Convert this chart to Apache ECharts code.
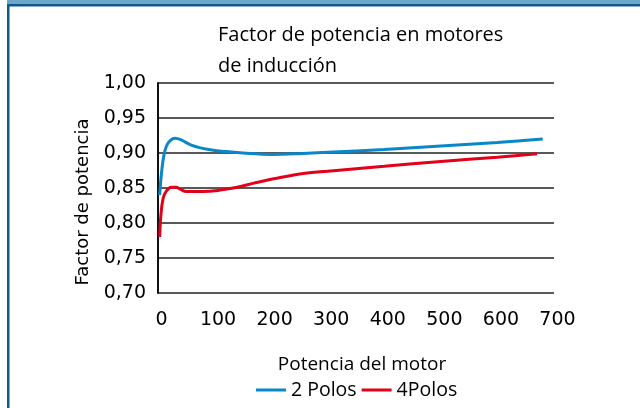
<!DOCTYPE html>
<html>
<head>
<meta charset="utf-8">
<script src="https://cdn.jsdelivr.net/npm/echarts@6/dist/echarts.min.js"></script>
<style>
  html, body { margin: 0; padding: 0; background: #fff; }
  #chart { width: 640px; height: 408px; }
</style>
</head>
<body>
<div id="chart"></div>
<script>
// Power factor vs motor power (kW) for induction motors
const titleLines = ['Factor de potencia en motores', 'de inducción'];
const xName = 'Potencia del motor';
const yName = 'Factor de potencia';
const seriesNames = ['2 Polos', '4Polos'];

// [motor power, power factor]
const polos2 = [
  [3, 0.840], [6, 0.870], [10, 0.895], [15, 0.910], [22, 0.918], [30, 0.921],
  [40, 0.919], [60, 0.911], [90, 0.905], [120, 0.902], [150, 0.900], [200, 0.898],
  [250, 0.899], [300, 0.901], [400, 0.905], [500, 0.910], [600, 0.915], [680, 0.920]
];
const polos4 = [
  [3, 0.780], [5, 0.810], [9, 0.835], [15, 0.846], [24, 0.851], [32, 0.851],
  [40, 0.848], [50, 0.845], [80, 0.845], [110, 0.847], [140, 0.851], [170, 0.857],
  [210, 0.864], [260, 0.871], [300, 0.874], [400, 0.881], [500, 0.888], [600, 0.894],
  [670, 0.899]
];

const xTicks = { min: 0, max: 700, interval: 100 };
const yTicks = { min: 0.70, max: 1.00, interval: 0.05 };

const chart = echarts.init(document.getElementById('chart'), null, { renderer: 'canvas' });

const textFont = 'Open Sans';
const numFont = 'DejaVu Sans';

chart.setOption({
  animation: false,
  backgroundColor: '#ffffff',
  graphic: [
    { type: 'rect', shape: { x: 7, y: 0, width: 633, height: 4 }, style: { fill: '#6ea6c9' } },
    { type: 'rect', shape: { x: 7, y: 4, width: 633, height: 2.5 }, style: { fill: '#0d5a8b' } },
    { type: 'rect', shape: { x: 7, y: 4, width: 2.5, height: 404 }, style: { fill: '#0d5a8b' } }
  ],
  title: {
    text: titleLines.join('\n'),
    left: 213,
    top: 15,
    textStyle: { fontFamily: textFont, fontSize: 20, fontWeight: 'normal', color: '#000', lineHeight: 31 }
  },
  legend: {
    data: seriesNames,
    bottom: 3,
    left: 251,
    itemWidth: 30,
    itemHeight: 3,
    itemGap: 5,
    icon: 'rect',
    textStyle: { fontFamily: textFont, fontSize: 19.5, color: '#000' }
  },
  grid: { left: 158, right: 86, top: 83, bottom: 115, containLabel: false },
  xAxis: {
    type: 'value',
    min: xTicks.min, max: xTicks.max, interval: xTicks.interval,
    name: xName,
    nameLocation: 'middle',
    nameGap: 62,
    nameTextStyle: { fontFamily: textFont, fontSize: 19, color: '#000', padding: [0, 0, 0, 12] },
    axisLine: { show: false },
    axisTick: { show: false },
    splitLine: { show: false },
    axisLabel: { fontFamily: numFont, fontSize: 19, color: '#000', margin: 18, padding: [0, 0, 0, 7] }
  },
  yAxis: {
    type: 'value',
    min: yTicks.min, max: yTicks.max, interval: yTicks.interval,
    name: yName,
    nameLocation: 'middle',
    nameRotate: 90,
    nameGap: 64,
    nameTextStyle: { fontFamily: numFont, fontSize: 18, color: '#000', padding: [0, 28, 0, 0] },
    axisLine: { show: true, lineStyle: { color: '#111', width: 2 } },
    axisTick: { show: false },
    splitLine: { show: true, lineStyle: { color: '#222', width: 1.6 } },
    axisLabel: {
      fontFamily: numFont, fontSize: 19, color: '#000', margin: 12,
      formatter: v => v.toFixed(2).replace('.', ',')
    }
  },
  series: [
    {
      name: seriesNames[0], type: 'line', data: polos2, smooth: 0.4, showSymbol: false,
      lineStyle: { color: '#0a87c9', width: 3 }, itemStyle: { color: '#0a87c9' }
    },
    {
      name: seriesNames[1], type: 'line', data: polos4, smooth: 0.4, showSymbol: false,
      lineStyle: { color: '#e2001a', width: 3 }, itemStyle: { color: '#e2001a' }
    }
  ]
});
</script>
</body>
</html>
